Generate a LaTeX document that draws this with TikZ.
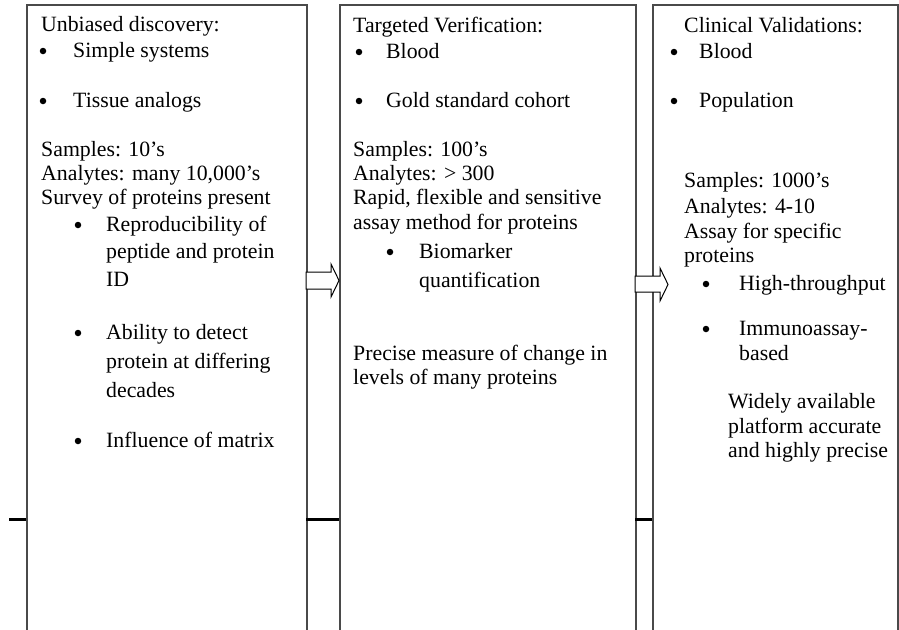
\documentclass[tikz,border=0pt]{standalone}
\usepackage{fontspec}
\setmainfont{Liberation Serif}
\definecolor{boxgray}{HTML}{4A4A4A}
\begin{document}
\begin{tikzpicture}[x=1pt,y=-1pt,
  box/.style={draw=boxgray, line width=1.6pt, fill=white, inner sep=0pt, anchor=north west},
  txt/.style={anchor=base west, inner sep=0pt, font=\fontsize{21.8}{25}\selectfont},
  dot/.style={circle, fill=black, inner sep=0pt, minimum size=6.5pt},
  sepline/.style={line width=3pt, black},
  blockarrow/.style={draw=black, line width=1pt, fill=white, line join=miter}]
\useasboundingbox (0,0) rectangle (899,629);
% boxes
\node[box, minimum width=280pt, minimum height=660pt] (box1) at (26,4) {};
\node[box, minimum width=296pt, minimum height=660pt] (box2) at (339,4) {};
\node[box, minimum width=245pt, minimum height=660pt] (box3) at (652,4) {};
% separator lines
\coordinate (s0) at (9,519);
\coordinate (s1) at (26,519);
\coordinate (s2) at (306,519);
\coordinate (s3) at (339,519);
\coordinate (s4) at (635,519);
\coordinate (s5) at (652,519);
\draw[sepline] (s0) -- (s1);
\draw[sepline] (s2) -- (s3);
\draw[sepline] (s4) -- (s5);
% block arrows
\draw[blockarrow] (306,272) -- (331,272) -- (331,264) -- (339,280.5) -- (331,297) -- (331,289) -- (306,289) -- cycle;
\draw[blockarrow] (635,276) -- (660,276) -- (660,268) -- (668,284.5) -- (660,301) -- (660,292) -- (635,292) -- cycle;
% box 1 text
\node[txt] (a1) at (41,31) {Unbiased discovery:};
\node[dot] (a2d) at (43,51) {};
\node[txt] (a2) at (73,57) {Simple systems};
\node[dot] (a3d) at (43,101) {};
\node[txt] (a3) at (73,107) {Tissue analogs};
\node[txt] (a4) at (41,156) {Samples: 10’s};
\node[txt] (a5) at (41,180) {Analytes: many 10,000’s};
\node[txt] (a6) at (41,204) {Survey of proteins present};
\node[dot] (a7d) at (78,225) {};
\node[txt] (a7) at (106,231) {Reproducibility of};
\node[txt] (a8) at (106,258) {peptide and protein};
\node[txt] (a9) at (106,286) {ID};
\node[dot] (a10d) at (78,333) {};
\node[txt] (a10) at (106,339) {Ability to detect};
\node[txt] (a11) at (106,368) {protein at differing};
\node[txt] (a12) at (106,397) {decades};
\node[dot] (a13d) at (78,441) {};
\node[txt] (a13) at (106,447) {Influence of matrix};
% box 2 text
\node[txt] (b1) at (353,32) {Targeted Verification:};
\node[dot] (b2d) at (359,52) {};
\node[txt] (b2) at (386,58) {Blood};
\node[dot] (b3d) at (359,101) {};
\node[txt] (b3) at (386,107) {Gold standard cohort};
\node[txt] (b4) at (353,156) {Samples: 100’s};
\node[txt] (b5) at (353,180) {Analytes: > 300};
\node[txt] (b6) at (353,204) {Rapid, flexible and sensitive};
\node[txt] (b7) at (353,229) {assay method for proteins};
\node[dot] (b8d) at (390,252) {};
\node[txt] (b8) at (419,258) {Biomarker};
\node[txt] (b9) at (419,287) {quantification};
\node[txt] (b10) at (353,360) {Precise measure of change in};
\node[txt] (b11) at (353,384) {levels of many proteins};
% box 3 text
\node[txt] (c1) at (684,32) {Clinical Validations:};
\node[dot] (c2d) at (674,52) {};
\node[txt] (c2) at (699,58) {Blood};
\node[dot] (c3d) at (674,101) {};
\node[txt] (c3) at (699,107) {Population};
\node[txt] (c4) at (684,187) {Samples: 1000’s};
\node[txt] (c5) at (684,213) {Analytes: 4-10};
\node[txt] (c6) at (684,238) {Assay for specific};
\node[txt] (c7) at (684,262) {proteins};
\node[dot] (c8d) at (706,284) {};
\node[txt] (c8) at (739,290) {High-throughput};
\node[dot] (c9d) at (706,329) {};
\node[txt] (c9) at (739,335) {Immunoassay-};
\node[txt] (c10) at (739,360) {based};
\node[txt] (c11) at (728,408) {Widely available};
\node[txt] (c12) at (728,433) {platform accurate};
\node[txt] (c13) at (728,457) {and highly precise};
\end{tikzpicture}
\end{document}
